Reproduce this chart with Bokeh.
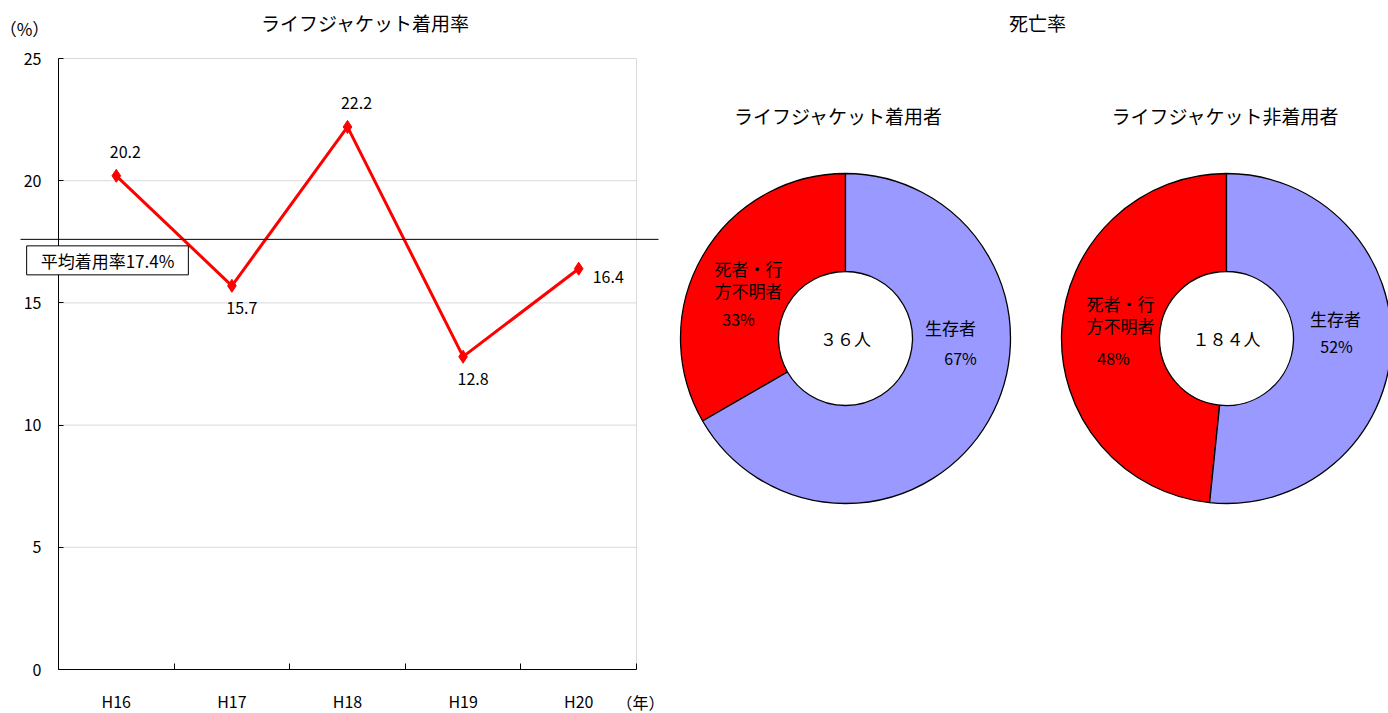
import math
from bokeh.plotting import figure
from bokeh.models import Range1d, FixedTicker, Label, Arrow, ColumnDataSource
from bokeh.layouts import row
from bokeh.embed import file_html
from bokeh.resources import INLINE

# ---------------- data ----------------
years = ["H16", "H17", "H18", "H19", "H20"]
wear_rate = [20.2, 15.7, 22.2, 12.8, 16.4]
y_ticks = [0, 5, 10, 15, 20, 25]
avg_text = "平均着用率17.4%"
avg_line_value = 17.6

pie_titles = ["ライフジャケット着用者", "ライフジャケット非着用者"]
dead_missing = [12, 89]
survivors = [24, 95]
dead_label_lines = ["死者・行", "方不明者"]
alive_label = "生存者"

main_title = "ライフジャケット着用率"
right_title = "死亡率"

FONT = "Noto Sans CJK JP"
RED = "#FF0000"
BLUE = "#9999FF"
GRID = "#d9d9d9"

# ---------------- left: line chart ----------------
W1, H = 668, 713
PL, PR, PT, PB = 58, 636, 58, 669          # plot area in page px
n = len(years)
y_max = y_ticks[-1]
sx = (PR - PL) / n                          # px per category
sy = (PB - PT) / y_max                      # px per unit
x_rng = Range1d(-PL / sx, (W1 - PL) / sx)
y_rng = Range1d(-(H - PB) / sy, PB / sy)

p1 = figure(width=W1, height=H, x_range=x_rng, y_range=y_rng,
            output_backend="svg", toolbar_location=None, min_border=0)
p1.outline_line_color = None
p1.grid.visible = False

# light grid lines and right border of the plot area
gy = y_ticks[1:]
p1.segment(x0=[0] * len(gy), y0=gy, x1=[n] * len(gy), y1=gy, line_color=GRID, line_width=1)
p1.segment(x0=[n], y0=[0], x1=[n], y1=[y_max], line_color=GRID, line_width=1)

ya = p1.yaxis[0]
ya.fixed_location = 0
ya.bounds = (0, y_max)
ya.ticker = FixedTicker(ticks=y_ticks, minor_ticks=[])
ya.major_tick_in = 5
ya.major_tick_out = 0
ya.minor_tick_in = 0
ya.minor_tick_out = 0
ya.axis_line_color = "black"
ya.major_tick_line_color = "black"
ya.major_label_text_font = FONT
ya.major_label_text_font_size = "16px"
ya.major_label_text_color = "black"
ya.major_label_standoff = 17

xs = [i + 0.5 for i in range(n)]
xa = p1.xaxis[0]
xa.fixed_location = 0
xa.bounds = (0, n)
xa.ticker = FixedTicker(ticks=xs, minor_ticks=list(range(n + 1)))
xa.major_label_overrides = {x: t for x, t in zip(xs, years)}
xa.major_tick_in = 0
xa.major_tick_out = 0
xa.minor_tick_in = 6
xa.minor_tick_out = 0
xa.minor_tick_line_color = "black"
xa.axis_line_color = "black"
xa.major_label_text_font = FONT
xa.major_label_text_font_size = "16px"
xa.major_label_text_color = "black"
xa.major_label_standoff = 19

src = ColumnDataSource(dict(x=xs, y=wear_rate))
p1.line("x", "y", source=src, line_color=RED, line_width=3)
p1.scatter("x", "y", source=src, marker="diamond", size=13, fill_color=RED, line_color=RED)

def txt(fig, **kw):
    base = dict(text_baseline="middle", text_font=FONT, text_font_size="16px",
                text_color="black", text_align="center")
    base.update(kw)
    fig.add_layout(Label(**base))

# data labels
label_pos = ["above", "below", "above", "below", "right"]
for x, v, pos in zip(xs, wear_rate, label_pos):
    if pos == "above":
        kw = dict(x_offset=9, y_offset=24)
    elif pos == "below":
        kw = dict(x_offset=10, y_offset=-22)
    else:
        kw = dict(x_offset=14, y_offset=-8, text_align="left")
    txt(p1, x=x, y=v, text=f"{v:.1f}", **kw)

# axis unit labels and title
txt(p1, x=0, y=y_max, x_offset=-34, y_offset=30, text="（%）", text_font_size="17px")
txt(p1, x=n, y=0, x_offset=4, y_offset=-32, text="（年）", text_font_size="16px")
txt(p1, x=0, y=y_max, x_offset=307, y_offset=36, text=main_title, text_font_size="19px")

# average line and label
p1.add_layout(Arrow(x_start=-(PL - 20) / sx, y_start=avg_line_value,
                    x_end=n + 22 / sx, y_end=avg_line_value,
                    start=None, end=None, line_color="black", line_width=1))
txt(p1, x=0, y=avg_line_value, x_offset=49, y_offset=-21, text=avg_text,
    text_font_size="17px", border_line_color="black", border_line_width=1,
    background_fill_color="white", padding=dict(left=14, right=14, top=2, bottom=2))

# ---------------- right: donut charts ----------------
X0, W2 = W1, 1388 - W1
def Y(py):
    return H - py

p2 = figure(width=W2, height=H, x_range=Range1d(X0, X0 + W2), y_range=Range1d(0, H),
            output_backend="svg", toolbar_location=None, x_axis_type=None, y_axis_type=None,
            min_border=0)
p2.outline_line_color = None
p2.grid.visible = False

centers = [(845, 338), (1226, 338)]
R_OUT, R_IN = 165, 67

wx, wy, ws, we, wc = [], [], [], [], []
for (cx, cy), d, a in zip(centers, dead_missing, survivors):
    tot = d + a
    s0 = math.pi / 2
    s1 = s0 + d / tot * 2 * math.pi
    wx += [cx, cx]; wy += [Y(cy), Y(cy)]
    ws += [s0, s1]; we += [s1, s0 + 2 * math.pi]; wc += [RED, BLUE]
p2.annular_wedge(x="x", y="y", inner_radius=R_IN, outer_radius=R_OUT, start_angle="s", end_angle="e",
                 direction="anticlock", fill_color="c", line_color="black", line_width=1.3,
                 source=ColumnDataSource(dict(x=wx, y=wy, s=ws, e=we, c=wc)))

FW = str.maketrans("0123456789", "０１２３４５６７８９")

def lab(x, y, t, size="16px"):
    txt(p2, x=x, y=Y(y), text=t, text_font_size=size)

lab(1037, 22, right_title, "19px")
title_x = [838, 1225]
# label placement offsets relative to each centre (style)
dead_off = [((-97, -70), (-97, -48), (-107, -20)), ((-106, -35), (-106, -13), (-113, 19))]
alive_off = [((105, -11), (115, 19)), ((109, -20), (110, 7))]
for i, ((cx, cy), d, a) in enumerate(zip(centers, dead_missing, survivors)):
    tot = d + a
    lab(title_x[i], 115, pie_titles[i], "19px")
    lab(cx, cy, f"{tot}".translate(FW) + "人", "17px")
    o = dead_off[i]
    lab(cx + o[0][0], cy + o[0][1], dead_label_lines[0], "17px")
    lab(cx + o[1][0], cy + o[1][1], dead_label_lines[1], "17px")
    lab(cx + o[2][0], cy + o[2][1], f"{round(100 * d / tot)}%")
    o = alive_off[i]
    lab(cx + o[0][0], cy + o[0][1], alive_label, "17px")
    lab(cx + o[1][0], cy + o[1][1], f"{round(100 * a / tot)}%")

layout = row(p1, p2, spacing=0)
open("out.html", "w").write(file_html(layout, INLINE))
